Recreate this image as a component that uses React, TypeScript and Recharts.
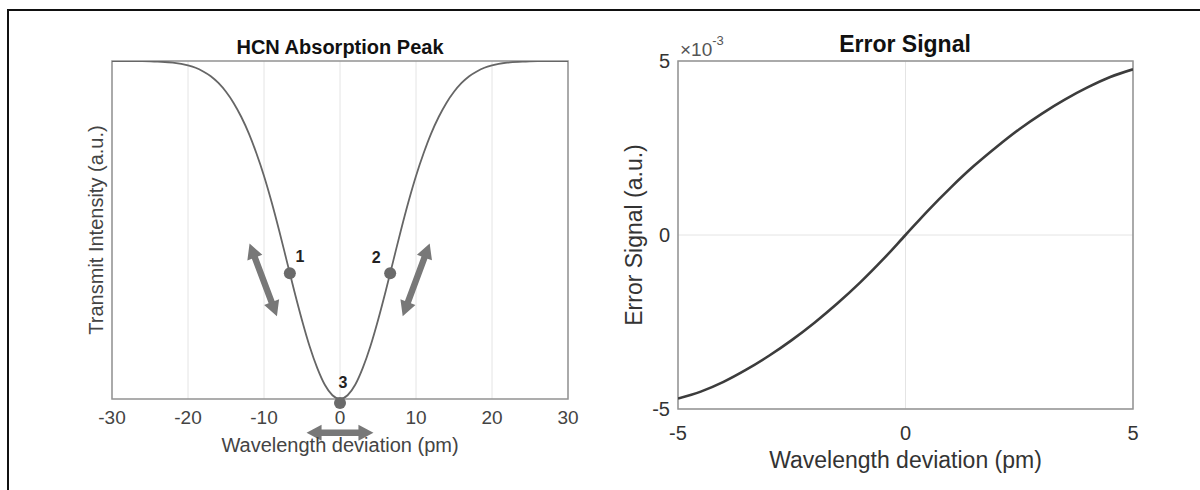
import React from 'react';
import {
  LineChart, Line, XAxis, YAxis, CartesianGrid, ReferenceArea, ReferenceDot, ReferenceLine,
} from 'recharts';

// ---- data ----
// left panel: transmitted intensity (normalised) vs wavelength deviation (pm)
const peakWavelength = [-30, -28, -26, -24, -22, -20, -19, -18, -17, -16, -15, -14, -13, -12, -11, -10,
  -9, -8, -7, -6, -5, -4, -3, -2, -1, 0, 1, 2, 3, 4, 5, 6, 7, 8, 9, 10, 11, 12, 13, 14, 15, 16, 17, 18, 19, 20,
  22, 24, 26, 28, 30];
const peakIntensity = [1.0, 1.0, 1.0, 0.998, 0.995, 0.987, 0.98, 0.969, 0.955, 0.935, 0.909, 0.876, 0.835, 0.786, 0.727, 0.66,
  0.583, 0.498, 0.408, 0.318, 0.233, 0.156, 0.092, 0.042, 0.011, 0, 0.011, 0.042, 0.092, 0.156, 0.233, 0.318, 0.408, 0.498, 0.583, 0.66,
  0.727, 0.786, 0.835, 0.876, 0.909, 0.935, 0.955, 0.969, 0.98, 0.987, 0.995, 0.998, 1.0, 1.0, 1.0];
const peakTicks = [-30, -20, -10, 0, 10, 20, 30];

// operating points on the absorption curve
const markerNames = ['1', '2', '3'];
const markerX = [-6.6, 6.6, 0];
const markerY = [0.372, 0.372, -0.012];

// double arrows drawn next to the operating points (data coords)
const arrowFromX = [-11.9, 11.8, -4.4];
const arrowFromY = [0.46, 0.46, -0.1];
const arrowToX = [-8.3, 8.25, 4.4];
const arrowToY = [0.245, 0.245, -0.1];

// right panel: error signal (x10^-3) vs wavelength deviation (pm)
const errWavelength = [-5, -4.5, -4, -3.5, -3, -2.5, -2, -1.5, -1, -0.5, 0, 0.5, 1, 1.5, 2, 2.5, 3, 3.5, 4, 4.5, 5];
const errSignal = [-4.7, -4.5, -4.22, -3.87, -3.47, -3.02, -2.52, -1.97, -1.37, -0.71, 0,
  0.71, 1.37, 1.98, 2.53, 3.04, 3.49, 3.89, 4.24, 4.54, 4.76];
const errTicks = [-5, 0, 5];

const peakData = peakWavelength.map((x, i) => ({ x, y: peakIntensity[i] }));
const errData = errWavelength.map((x, i) => ({ x, y: errSignal[i] }));

const FONT = '"Liberation Sans", Arial, Helvetica, sans-serif';
const BOX = '#939393';
const GRID = '#e4e4e4';

// label offsets (px) for the marker numbers
const labelOffset = [
  { dx: 10, dy: -11 },
  { dx: -14, dy: -10 },
  { dx: 3, dy: -15 },
];

const DoubleArrow = (props: any) => {
  const { x1, y1, x2, y2 } = props;
  if ([x1, y1, x2, y2].some((v) => typeof v !== 'number' || isNaN(v))) return null;
  const len = Math.hypot(x2 - x1, y2 - y1);
  const ux = (x2 - x1) / len;
  const uy = (y2 - y1) / len;
  const nx = -uy;
  const ny = ux;
  const head = 15;
  const hw = 8;
  const sw = 3.2;
  const b1x = x1 + ux * head;
  const b1y = y1 + uy * head;
  const b2x = x2 - ux * head;
  const b2y = y2 - uy * head;
  const pts = [
    [x1, y1],
    [b1x + nx * hw, b1y + ny * hw],
    [b1x + nx * sw, b1y + ny * sw],
    [b2x + nx * sw, b2y + ny * sw],
    [b2x + nx * hw, b2y + ny * hw],
    [x2, y2],
    [b2x - nx * hw, b2y - ny * hw],
    [b2x - nx * sw, b2y - ny * sw],
    [b1x - nx * sw, b1y - ny * sw],
    [b1x - nx * hw, b1y - ny * hw],
  ];
  return <polygon points={pts.map((p) => p.join(',')).join(' ')} fill="#787878" />;
};

const markerShape = (i: number) => (props: any) => {
  const { cx, cy } = props;
  return (
    <g>
      <circle cx={cx} cy={cy} r={6} fill="#6a6a6a" />
      <text
        x={cx + labelOffset[i].dx}
        y={cy + labelOffset[i].dy}
        textAnchor="middle"
        fontFamily={FONT}
        fontWeight="bold"
        fontSize={16}
        fill="#222"
      >
        {markerNames[i]}
      </text>
    </g>
  );
};

const App = () => {
  return (
    <div style={{ position: 'absolute', left: 0, top: 0, width: 1200, height: 490, background: '#fff', overflow: 'hidden', fontFamily: FONT }}>
      {/* outer frame */}
      <div style={{ position: 'absolute', left: 7, top: 9, width: 1200, height: 490, borderTop: '2px solid #111', borderLeft: '2px solid #111' }} />

      {/* left panel */}
      <div style={{ position: 'absolute', left: 0, top: 0 }}>
        <LineChart width={600} height={490} data={peakData} margin={{ top: 61, right: 32, left: 80, bottom: 31 }}>
          <CartesianGrid horizontal={false} stroke={GRID} strokeWidth={1} />
          <XAxis
            dataKey="x"
            type="number"
            domain={[-30, 30]}
            ticks={peakTicks}
            allowDataOverflow
            axisLine={false}
            tickLine={false}
            height={60}
            tickMargin={6}
            tick={{ fill: '#444', fontSize: 19, fontFamily: FONT }}
            label={{ value: 'Wavelength deviation (pm)', position: 'insideBottom', offset: 7, fill: '#444', fontSize: 20, fontFamily: FONT }}
          />
          <YAxis
            type="number"
            domain={[0, 1]}
            allowDataOverflow
            width={32}
            tick={false}
            tickLine={false}
            axisLine={false}
            label={{ value: 'Transmit Intensity (a.u.)', angle: -90, position: 'center', fill: '#444', fontSize: 20, fontFamily: FONT }}
          />
          <ReferenceArea x1={-30} x2={30} y1={0} y2={1} fill="none" stroke={BOX} strokeWidth={1.5} />
          <Line type="monotone" dataKey="y" stroke="#666" strokeWidth={1.8} dot={false} isAnimationActive={false} />
          {arrowFromX.map((_, i) => (
            <ReferenceLine
              key={'arr' + i}
              segment={[{ x: arrowFromX[i], y: arrowFromY[i] }, { x: arrowToX[i], y: arrowToY[i] }]}
              ifOverflow="visible"
              shape={DoubleArrow}
            />
          ))}
          {markerX.map((_, i) => (
            <ReferenceDot key={'m' + i} x={markerX[i]} y={markerY[i]} r={6} ifOverflow="visible" shape={markerShape(i)} />
          ))}
        </LineChart>
      </div>
      <div style={{ position: 'absolute', left: 340, top: 47, transform: 'translate(-50%, -50%)', fontWeight: 'bold', fontSize: 20, lineHeight: 1, whiteSpace: 'nowrap', color: '#111' }}>
        HCN Absorption Peak
      </div>

      {/* right panel */}
      <div style={{ position: 'absolute', left: 560, top: 0 }}>
        <LineChart width={640} height={490} data={errData} margin={{ top: 61, right: 67, left: 30, bottom: 21 }}>
          <CartesianGrid stroke={GRID} strokeWidth={1} />
          <XAxis
            dataKey="x"
            type="number"
            domain={[-5, 5]}
            ticks={errTicks}
            allowDataOverflow
            axisLine={false}
            tickLine={false}
            height={60}
            tickMargin={11}
            tick={{ fill: '#333', fontSize: 20, fontFamily: FONT }}
            label={{ value: 'Wavelength deviation (pm)', position: 'insideBottom', offset: 1, fill: '#333', fontSize: 23, fontFamily: FONT }}
          />
          <YAxis
            type="number"
            domain={[-5, 5]}
            ticks={errTicks}
            allowDataOverflow
            width={88}
            axisLine={false}
            tickLine={false}
            tick={{ fill: '#333', fontSize: 20, fontFamily: FONT }}
            label={{ value: 'Error Signal (a.u.)', angle: -90, position: 'center', fill: '#333', fontSize: 23, fontFamily: FONT }}
          />
          <ReferenceArea x1={-5} x2={5} y1={-5} y2={5} fill="none" stroke={BOX} strokeWidth={1.5} />
          <Line type="monotone" dataKey="y" stroke="#3c3c3c" strokeWidth={2.6} dot={false} isAnimationActive={false} />
        </LineChart>
      </div>
      <div style={{ position: 'absolute', left: 905, top: 44, transform: 'translate(-50%, -50%)', fontWeight: 'bold', fontSize: 23, lineHeight: 1, whiteSpace: 'nowrap', color: '#111' }}>
        Error Signal
      </div>
      <div style={{ position: 'absolute', left: 680, top: 40, fontSize: 19, lineHeight: 1, whiteSpace: 'nowrap', color: '#555' }}>
        ×10<sup style={{ fontSize: 13, verticalAlign: 'top', position: 'relative', top: -6 }}>-3</sup>
      </div>
    </div>
  );
};

export default App;
